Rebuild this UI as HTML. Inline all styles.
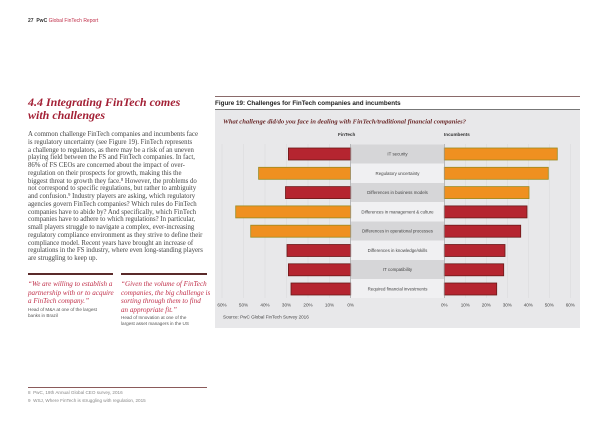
<!DOCTYPE html><html><head><style>
body{margin:0;width:600px;height:424px;background:#fff;position:relative;overflow:hidden;font-family:"Liberation Sans",sans-serif}
.a{position:absolute;white-space:nowrap}
.body{position:absolute;left:28px;top:131px;white-space:nowrap;font-family:"Liberation Serif",serif;font-size:6.8px;line-height:7.75px;color:#444}
.q{position:absolute;white-space:nowrap;font-family:"Liberation Serif",serif;font-style:italic;font-size:7.1px;line-height:8.6px;color:#c0304a}
.s{position:absolute;white-space:nowrap;font-size:4.6px;line-height:6px;color:#555}
</style></head><body>
<div class="a" style="left:28px;top:18px;font-size:5px;font-weight:bold;color:#333">27 &nbsp;PwC <span style="font-weight:normal;color:#c0304a">Global FinTech Report</span></div>
<div class="a" style="left:28px;top:96px;font-family:'Liberation Serif',serif;font-style:italic;font-weight:bold;font-size:12px;line-height:13px;color:#a32035">4.4 Integrating FinTech comes<br>with challenges</div>
<div class="body">A common challenge FinTech companies and incumbents face<br>is regulatory uncertainty (see Figure 19). FinTech represents<br>a challenge to regulators, as there may be a risk of an uneven<br>playing field between the FS and FinTech companies. In fact,<br>86% of FS CEOs are concerned about the impact of over-<br>regulation on their prospects for growth, making this the<br>biggest threat to growth they face.⁸ However, the problems do<br>not correspond to specific regulations, but rather to ambiguity<br>and confusion.⁹ Industry players are asking, which regulatory<br>agencies govern FinTech companies? Which rules do FinTech<br>companies have to abide by? And specifically, which FinTech<br>companies have to adhere to which regulations? In particular,<br>small players struggle to navigate a complex, ever-increasing<br>regulatory compliance environment as they strive to define their<br>compliance model. Recent years have brought an increase of<br>regulations in the FS industry, where even long-standing players<br>are struggling to keep up.</div>
<div class="a" style="left:28px;top:273px;width:85px;height:2px;background:#5a2a2a"></div>
<div class="a" style="left:121px;top:273px;width:86px;height:2px;background:#5a2a2a"></div>
<div class="q" style="left:28px;top:280px">“We are willing to establish a<br>partnership with or to acquire<br>a FinTech company.”</div>
<div class="s" style="left:28px;top:307px">Head of M&amp;A at one of the largest<br>banks in Brazil</div>
<div class="q" style="left:121px;top:280px">“Given the volume of FinTech<br>companies, the big challenge is<br>sorting through them to find<br>an appropriate fit.”</div>
<div class="s" style="left:121px;top:315px">Head of Innovation at one of the<br>largest asset managers in the US</div>
<div class="a" style="left:28px;top:387px;width:179px;height:1px;background:#8a5a5a"></div>
<div class="s" style="left:28px;top:390px;color:#888">8 &nbsp;PwC, 19th Annual Global CEO survey, 2016<br><span style="line-height:9px">9 &nbsp;WSJ, Where FinTech is struggling with regulation, 2015</span></div>

<div class="a" style="left:215px;top:96px;width:365px;height:1px;background:#8a6a6a"></div>
<div class="a" style="left:215px;top:100px;font-size:6.3px;font-weight:bold;color:#222">Figure 19: Challenges for FinTech companies and incumbents</div>
<div class="a" style="left:215px;top:109px;width:365px;height:1px;background:#777"></div>
<svg class="a" style="left:215px;top:110px" width="365" height="218" viewBox="215 110 365 218" font-family="Liberation Sans, sans-serif">
<rect x="215" y="110" width="365" height="218" fill="#e8e8ea"/>
<text x="223" y="123.5" font-family="Liberation Serif, serif" font-style="italic" font-weight="bold" font-size="6.6" fill="#6a2a2a">What challenge did/do you face in dealing with FinTech/traditional financial companies?</text>
<text x="338" y="136" font-size="4.6" font-weight="bold" fill="#333">FinTech</text>
<text x="444" y="136" font-size="4.6" font-weight="bold" fill="#333">Incumbents</text>
<g stroke="#dadadc" stroke-width="0.6">
<line x1="222" y1="144" x2="222" y2="298"/><line x1="243.5" y1="144" x2="243.5" y2="298"/><line x1="265" y1="144" x2="265" y2="298"/><line x1="286.5" y1="144" x2="286.5" y2="298"/><line x1="308" y1="144" x2="308" y2="298"/><line x1="329.5" y1="144" x2="329.5" y2="298"/>
<line x1="465.3" y1="144" x2="465.3" y2="298"/><line x1="486.3" y1="144" x2="486.3" y2="298"/><line x1="507.3" y1="144" x2="507.3" y2="298"/><line x1="528.3" y1="144" x2="528.3" y2="298"/><line x1="549.3" y1="144" x2="549.3" y2="298"/><line x1="570.3" y1="144" x2="570.3" y2="298"/>
</g>
<g fill="#d6d6d8">
<rect x="351" y="144.5" width="93" height="19"/><rect x="351" y="183" width="93" height="19"/><rect x="351" y="221.5" width="93" height="19"/><rect x="351" y="260" width="93" height="19"/>
</g>
<g fill="#f0f0f2">
<rect x="351" y="163.5" width="93" height="19.5"/><rect x="351" y="202" width="93" height="19.5"/><rect x="351" y="240.5" width="93" height="19.5"/><rect x="351" y="279" width="93" height="19"/>
</g>
<g font-size="4.4" fill="#444" text-anchor="middle">
<text x="397.5" y="155.5">IT security</text><text x="397.5" y="175">Regulatory uncertainty</text><text x="397.5" y="194">Differences in business models</text><text x="397.5" y="213.5">Differences in management &amp; culture</text><text x="397.5" y="232.5">Differences in operational processes</text><text x="397.5" y="252">Differences in knowledge/skills</text><text x="397.5" y="271">IT compatibility</text><text x="397.5" y="290.5">Required financial investments</text>
</g>
<g stroke-width="0.8">
<rect x="288.4" y="148" width="62.3" height="12" fill="#b52530" stroke="#6a1a1a"/>
<rect x="258.6" y="167.3" width="92" height="12" fill="#ef9020" stroke="#9a8a20"/>
<rect x="285.5" y="186.6" width="65.2" height="12" fill="#b52530" stroke="#6a1a1a"/>
<rect x="235.7" y="205.9" width="115" height="12" fill="#ef9020" stroke="#9a8a20"/>
<rect x="250.7" y="225.2" width="100" height="12" fill="#ef9020" stroke="#9a8a20"/>
<rect x="287" y="244.5" width="63.7" height="12" fill="#b52530" stroke="#6a1a1a"/>
<rect x="288.4" y="263.8" width="62.3" height="12" fill="#b52530" stroke="#6a1a1a"/>
<rect x="291" y="283" width="59.7" height="12" fill="#b52530" stroke="#6a1a1a"/>
<rect x="444.3" y="148" width="113" height="12" fill="#ef9020" stroke="#9a8a20"/>
<rect x="444.3" y="167.3" width="104" height="12" fill="#ef9020" stroke="#9a8a20"/>
<rect x="444.3" y="186.6" width="84.7" height="12" fill="#ef9020" stroke="#9a8a20"/>
<rect x="444.3" y="205.9" width="82.7" height="12" fill="#b52530" stroke="#6a1a1a"/>
<rect x="444.3" y="225.2" width="76.4" height="12" fill="#b52530" stroke="#6a1a1a"/>
<rect x="444.3" y="244.5" width="60.7" height="12" fill="#b52530" stroke="#6a1a1a"/>
<rect x="444.3" y="263.8" width="59.4" height="12" fill="#b52530" stroke="#6a1a1a"/>
<rect x="444.3" y="283" width="52.4" height="12" fill="#b52530" stroke="#6a1a1a"/>
</g>
<line x1="350.7" y1="144" x2="350.7" y2="298" stroke="#999" stroke-width="0.6"/>
<line x1="444.3" y1="144" x2="444.3" y2="298" stroke="#999" stroke-width="0.6"/>
<g font-size="4.6" fill="#444" text-anchor="middle">
<text x="222" y="306.5">60%</text><text x="243.5" y="306.5">50%</text><text x="265" y="306.5">40%</text><text x="286.5" y="306.5">30%</text><text x="308" y="306.5">20%</text><text x="329.5" y="306.5">10%</text><text x="350.7" y="306.5">0%</text>
<text x="444.3" y="306.5">0%</text><text x="465.3" y="306.5">10%</text><text x="486.3" y="306.5">20%</text><text x="507.3" y="306.5">30%</text><text x="528.3" y="306.5">40%</text><text x="549.3" y="306.5">50%</text><text x="570.3" y="306.5">60%</text>
</g>
<text x="223" y="318.5" font-size="4.6" fill="#444">Source: PwC Global FinTech Survey 2016</text>
</svg>
</body></html>
